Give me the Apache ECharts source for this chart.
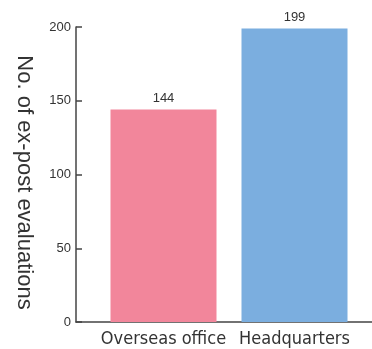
<!DOCTYPE html>
<html>
<head>
<meta charset="utf-8">
<script src="https://cdn.jsdelivr.net/npm/echarts@6/dist/echarts.min.js"></script>
<style>
  html, body { margin: 0; padding: 0; background: #fff; }
  #chart { width: 372px; height: 349px; }
</style>
</head>
<body>
<div id="chart"></div>
<script>
var categories = ['Overseas office', 'Headquarters'];
var counts = [144, 199];
var barColors = ['#F2869B', '#7BAEDF'];
var yTicks = [0, 50, 100, 150, 200];

var axisColor = '#444';
var textColor = '#333';

var chart = echarts.init(document.getElementById('chart'));

var option = {
    animation: false,
    grid: [
        // outer grid: carries the y axis and the full-width baseline
        { left: 76, right: 0, top: 27, bottom: 27 },
        // inner grid: the bars themselves
        { left: 98, width: 262, top: 27, bottom: 27 }
    ],
    xAxis: [
        {
            gridIndex: 0,
            type: 'category',
            data: categories,
            axisLine: { lineStyle: { color: axisColor, width: 1.5 } },
            axisTick: { show: false },
            axisLabel: { show: false }
        },
        {
            gridIndex: 1,
            type: 'category',
            data: categories,
            axisLine: { show: false },
            axisTick: { show: false },
            axisLabel: {
                interval: 0,
                hideOverlap: false,
                color: textColor,
                fontFamily: "'DejaVu Sans Condensed', Roboto, sans-serif",
                fontSize: 18,
                margin: 8
            }
        }
    ],
    yAxis: [
        {
            gridIndex: 0,
            type: 'value',
            min: yTicks[0],
            max: yTicks[yTicks.length - 1],
            interval: 50,
            splitLine: { show: false },
            axisLine: { show: true, lineStyle: { color: axisColor, width: 1.5 } },
            axisTick: { show: true, inside: true, length: 6, lineStyle: { color: axisColor, width: 1.5 } },
            axisLabel: {
                color: textColor,
                fontFamily: 'Liberation Sans',
                fontSize: 13,
                margin: 5
            },
            name: 'No. of ex-post evaluations',
            nameLocation: 'middle',
            nameRotate: -90,
            nameGap: 41,
            nameTextStyle: {
                color: textColor,
                fontFamily: 'Liberation Sans',
                fontSize: 22,
                padding: [0, 0, 0, 16]
            }
        },
        {
            gridIndex: 1,
            type: 'value',
            min: yTicks[0],
            max: yTicks[yTicks.length - 1],
            show: false
        }
    ],
    series: [
        {
            type: 'bar',
            xAxisIndex: 1,
            yAxisIndex: 1,
            barWidth: 106,
            data: counts.map(function (v, i) {
                return { value: v, itemStyle: { color: barColors[i] } };
            }),
            label: {
                show: true,
                position: 'top',
                distance: 5,
                color: textColor,
                fontFamily: 'Liberation Sans',
                fontSize: 13
            }
        }
    ]
};

chart.setOption(option);
</script>
</body>
</html>
